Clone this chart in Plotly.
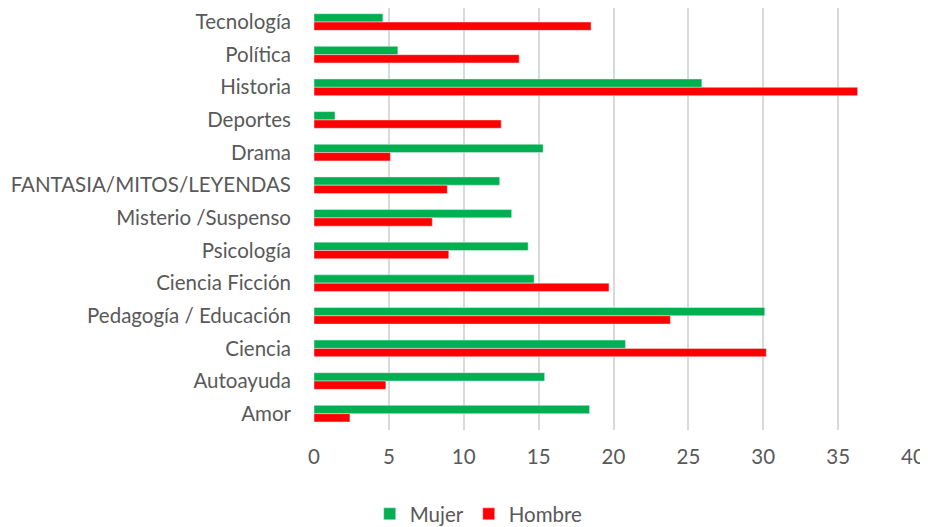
import plotly.graph_objects as go

categorias = ["Tecnología", "Política", "Historia", "Deportes", "Drama",
              "FANTASIA/MITOS/LEYENDAS", "Misterio /Suspenso", "Psicología",
              "Ciencia Ficción", "Pedagogía / Educación", "Ciencia", "Autoayuda", "Amor"]
mujer = [4.6, 5.6, 25.9, 1.4, 15.3, 12.4, 13.2, 14.3, 14.7, 30.1, 20.8, 15.4, 18.4]
hombre = [18.5, 13.7, 36.3, 12.5, 5.1, 8.9, 7.9, 9.0, 19.7, 23.8, 30.2, 4.8, 2.4]
x_ticks = [0, 5, 10, 15, 20, 25, 30, 35, 40]

FONT = "Lato, Carlito, Calibri, sans-serif"
GREY = "#595959"
FS = 20.5

fig = go.Figure()
fig.add_trace(go.Bar(y=categorias, x=mujer, name="Mujer", orientation="h",
                     marker=dict(color="#00B050")))
fig.add_trace(go.Bar(y=categorias, x=hombre, name="Hombre", orientation="h",
                     marker=dict(color="#FF0000")))

fig.update_layout(
    width=920, height=519,
    margin=dict(l=306, r=15, t=0, b=97, autoexpand=False),
    paper_bgcolor="white", plot_bgcolor="white",
    barmode="group", bargap=0.49, bargroupgap=0,
    font=dict(family=FONT, size=FS, color=GREY),
    xaxis=dict(range=[0, 40], tickvals=x_ticks, showgrid=True, gridcolor="#D9D9D9",
               gridwidth=1.5, zeroline=False, showline=False, ticks="",
               automargin=False, ticklabelstandoff=12,
               tickfont=dict(size=FS, color=GREY)),
    yaxis=dict(range=[12.5, -0.43], showgrid=False, zeroline=False, showline=False,
               ticks="", automargin=False, ticklabelstandoff=22,
               tickfont=dict(size=FS, color=GREY)),
    legend=dict(orientation="h", x=0.275, xanchor="center", y=-0.199, yanchor="middle",
                font=dict(size=FS, color=GREY), itemwidth=30),
    showlegend=True,
)

fig.write_html("out.html")
